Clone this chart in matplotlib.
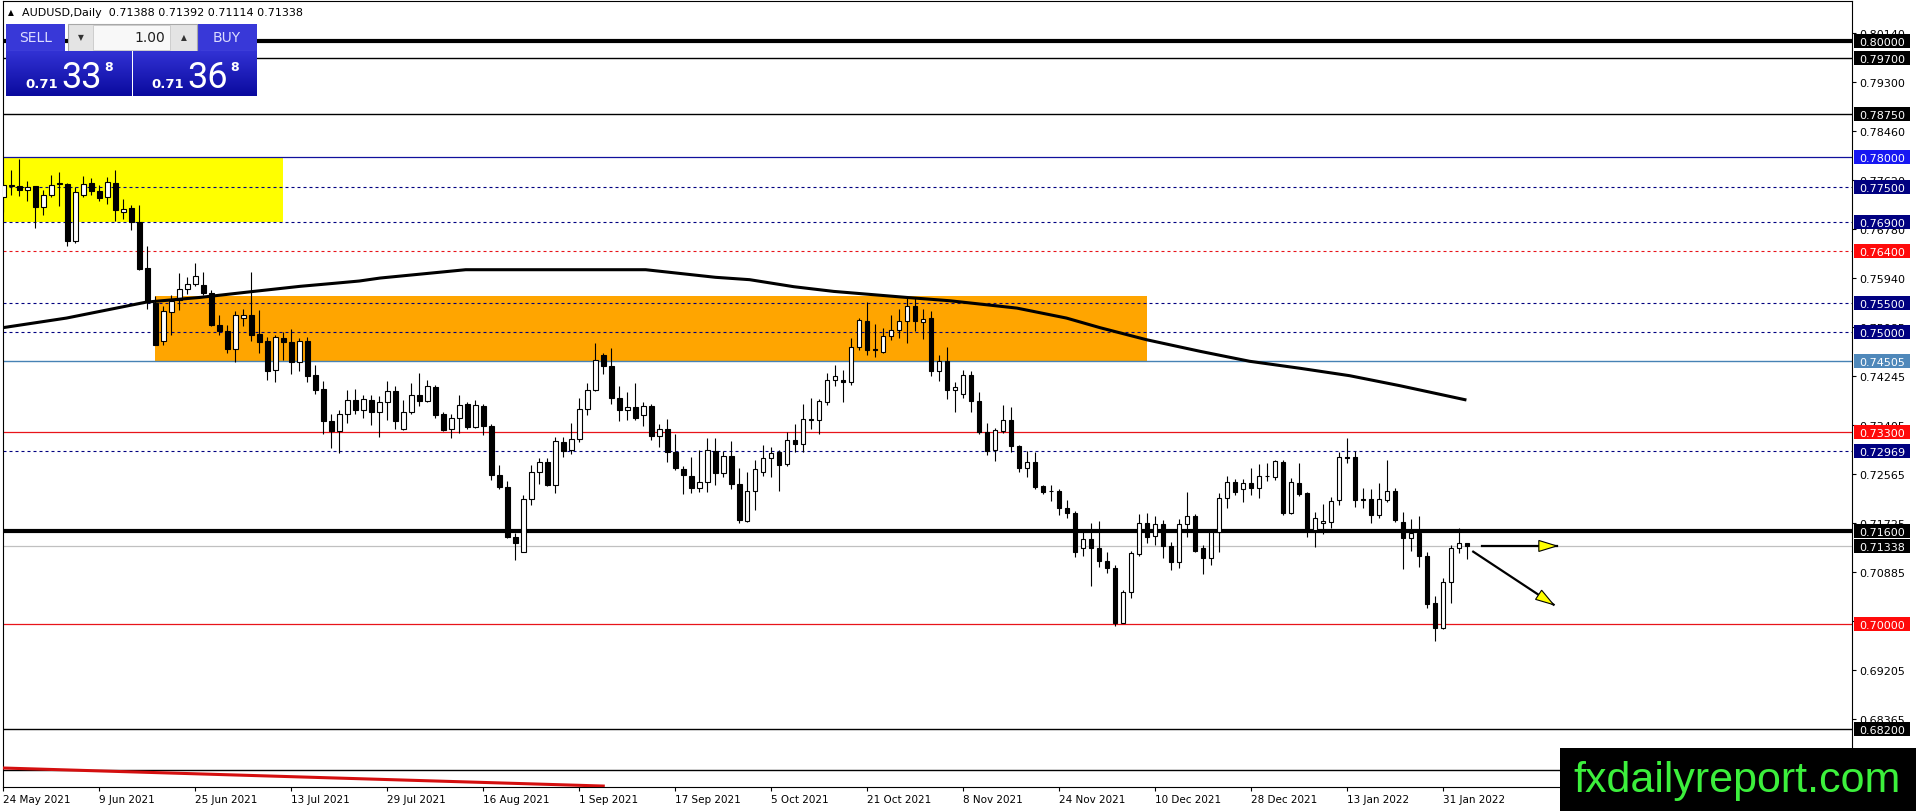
import numpy as np
import pandas as pd
import matplotlib
matplotlib.use('Agg')
import matplotlib.pyplot as plt
import matplotlib.transforms as mtrans
from matplotlib.patches import Rectangle, Polygon
from matplotlib.colors import LinearSegmentedColormap

W, H = 1916, 812

# AUDUSD daily candles, 24 May 2021 .. 3 Feb 2022
opens = [
    0.77315, 0.77504, 0.77516, 0.77436, 0.77504, 0.77144, 0.77350, 0.77544, 0.77544, 0.76560,
    0.77361, 0.77556, 0.77430, 0.77315, 0.77561, 0.77064, 0.77132, 0.76892, 0.76103, 0.75502,
    0.74844, 0.75342, 0.75559, 0.75748, 0.75834, 0.75805, 0.75674, 0.75130, 0.75016, 0.74719,
    0.75239, 0.75302, 0.74976, 0.74844, 0.74347, 0.74896, 0.74827, 0.74484, 0.74850, 0.74261,
    0.74026, 0.73472, 0.73311, 0.73597, 0.73832, 0.73672, 0.73843, 0.73643, 0.73798, 0.73986,
    0.73346, 0.73643, 0.73929, 0.73815, 0.74061, 0.73603, 0.73340, 0.73540, 0.73769, 0.73380,
    0.73740, 0.73403, 0.72556, 0.72356, 0.71498, 0.71241, 0.72139, 0.72614, 0.72785, 0.72385,
    0.73128, 0.72985, 0.73174, 0.73689, 0.74015, 0.74604, 0.74415, 0.73883, 0.73672, 0.73712,
    0.73575, 0.73740, 0.73231, 0.73346, 0.72945, 0.72654, 0.72545, 0.72333, 0.72442, 0.72974,
    0.72585, 0.72888, 0.72408, 0.71773, 0.72288, 0.72614, 0.72854, 0.72945, 0.72745, 0.73146,
    0.73088, 0.73523, 0.73500, 0.73803, 0.74175, 0.74187, 0.74141, 0.74741, 0.75188, 0.74713,
    0.74661, 0.74930, 0.75045, 0.75188, 0.75456, 0.75170, 0.75245, 0.74330, 0.74513, 0.74015,
    0.73946, 0.74261, 0.73815, 0.73289, 0.72985, 0.73317, 0.73489, 0.73060, 0.72682, 0.72785,
    0.72368, 0.72288, 0.72288, 0.71984, 0.71910, 0.71298, 0.71458, 0.71298, 0.71086, 0.70966,
    0.70022, 0.70543, 0.71201, 0.71738, 0.71515, 0.71710, 0.71344, 0.71069, 0.71716, 0.71859,
    0.71309, 0.71138, 0.71573, 0.72156, 0.72442, 0.72310, 0.72425, 0.72339, 0.72534, 0.72528,
    0.72774, 0.71910, 0.72425, 0.72242, 0.71613, 0.71738, 0.71756, 0.72127, 0.72865, 0.72860,
    0.72145, 0.72139, 0.71870, 0.72127, 0.72288, 0.71756, 0.71470, 0.71555, 0.71172, 0.70354,
    0.69937, 0.70715, 0.71309, 0.71388]
highs = [
    0.77601, 0.77779, 0.77973, 0.77590, 0.77516, 0.77436, 0.77704, 0.77750, 0.77556, 0.77487,
    0.77676, 0.77647, 0.77533, 0.77659, 0.77779, 0.77287, 0.77190, 0.77178, 0.76475, 0.75617,
    0.75445, 0.75645, 0.76017, 0.75943, 0.76183, 0.76028, 0.75731, 0.75302, 0.75119, 0.75359,
    0.75405, 0.76028, 0.75376, 0.74919, 0.74959, 0.75005, 0.75062, 0.74902, 0.74913, 0.74444,
    0.74169, 0.73597, 0.73666, 0.74009, 0.74032, 0.73929, 0.73929, 0.73901, 0.74158, 0.74072,
    0.73843, 0.74124, 0.74301, 0.74187, 0.74089, 0.73643, 0.73597, 0.73918, 0.73803, 0.73843,
    0.73769, 0.73437, 0.72728, 0.72453, 0.71555, 0.72213, 0.72728, 0.72842, 0.72842, 0.73203,
    0.73203, 0.73454, 0.73872, 0.74124, 0.74816, 0.74644, 0.74730, 0.74072, 0.73975, 0.74124,
    0.73798, 0.73769, 0.73426, 0.73512, 0.73260, 0.72717, 0.72871, 0.72985, 0.73186, 0.73197,
    0.72974, 0.73140, 0.72671, 0.72614, 0.72814, 0.73071, 0.73043, 0.72985, 0.73300, 0.73426,
    0.73769, 0.73883, 0.73861, 0.74301, 0.74433, 0.74358, 0.74902, 0.75245, 0.75514, 0.75148,
    0.75073, 0.75291, 0.75399, 0.75588, 0.75588, 0.75399, 0.75359, 0.74616, 0.74741, 0.74147,
    0.74347, 0.74341, 0.73975, 0.73443, 0.73357, 0.73758, 0.73712, 0.73071, 0.72968, 0.72957,
    0.72385, 0.72385, 0.72316, 0.72127, 0.71939, 0.71584, 0.71727, 0.71767, 0.71229, 0.71012,
    0.70583, 0.71252, 0.71881, 0.71899, 0.71859, 0.71784, 0.71401, 0.71801, 0.72270, 0.71881,
    0.71355, 0.71613, 0.72242, 0.72545, 0.72482, 0.72482, 0.72671, 0.72745, 0.72757, 0.72814,
    0.72814, 0.72511, 0.72757, 0.72259, 0.71916, 0.72065, 0.72173, 0.72957, 0.73186, 0.72974,
    0.72328, 0.72316, 0.72413, 0.72814, 0.72328, 0.71916, 0.71801, 0.71853, 0.71229, 0.70486,
    0.70795, 0.71355, 0.71641, 0.71392]
lows = [
    0.77064, 0.77350, 0.77333, 0.77247, 0.76789, 0.77018, 0.77315, 0.77172, 0.76475, 0.76526,
    0.77315, 0.77350, 0.77258, 0.77201, 0.76904, 0.76949, 0.76761, 0.76074, 0.75405, 0.74776,
    0.74787, 0.74959, 0.75388, 0.75657, 0.75800, 0.75645, 0.75102, 0.74947, 0.74639, 0.74484,
    0.75113, 0.74844, 0.74644, 0.74187, 0.74141, 0.74530, 0.74290, 0.74341, 0.74141, 0.73941,
    0.73254, 0.73025, 0.72928, 0.73443, 0.73597, 0.73540, 0.73414, 0.73214, 0.73500, 0.73346,
    0.73329, 0.73597, 0.73729, 0.73803, 0.73529, 0.73311, 0.73197, 0.73271, 0.73346, 0.73352,
    0.73243, 0.72465, 0.72316, 0.71470, 0.71098, 0.71229, 0.72042, 0.72402, 0.72368, 0.72253,
    0.72871, 0.72917, 0.73117, 0.73586, 0.73986, 0.74290, 0.73769, 0.73483, 0.73500, 0.73500,
    0.73397, 0.73157, 0.73043, 0.72774, 0.72642, 0.72230, 0.72253, 0.72265, 0.72270, 0.72385,
    0.72522, 0.72310, 0.71727, 0.71756, 0.71956, 0.72545, 0.72516, 0.72282, 0.72717, 0.72957,
    0.72957, 0.73346, 0.73260, 0.73758, 0.74072, 0.73803, 0.74101, 0.74701, 0.74616, 0.74570,
    0.74644, 0.74873, 0.74902, 0.74816, 0.75016, 0.74884, 0.74244, 0.74158, 0.73861, 0.73643,
    0.73883, 0.73643, 0.73254, 0.72900, 0.72802, 0.73271, 0.72957, 0.72614, 0.72522, 0.72310,
    0.72230, 0.72110, 0.71870, 0.71824, 0.71155, 0.71172, 0.70652, 0.70983, 0.70869, 0.69965,
    0.70011, 0.70440, 0.71172, 0.71384, 0.71355, 0.71138, 0.70926, 0.70966, 0.71498, 0.71229,
    0.70858, 0.71012, 0.71229, 0.71996, 0.72213, 0.72099, 0.72213, 0.72167, 0.72459, 0.72470,
    0.71870, 0.71888, 0.72202, 0.71498, 0.71327, 0.71538, 0.71641, 0.72042, 0.72757, 0.72002,
    0.71996, 0.71727, 0.71824, 0.72087, 0.71744, 0.70943, 0.71252, 0.70983, 0.70268, 0.69708,
    0.69914, 0.70366, 0.71224, 0.71114]
closes = [
    0.77533, 0.77521, 0.77436, 0.77493, 0.77144, 0.77350, 0.77533, 0.77556, 0.76572, 0.77401,
    0.77550, 0.77430, 0.77304, 0.77573, 0.77092, 0.77121, 0.76892, 0.76091, 0.75519, 0.74787,
    0.75359, 0.75531, 0.75748, 0.75834, 0.75960, 0.75674, 0.75130, 0.75016, 0.74719, 0.75302,
    0.75302, 0.74959, 0.74833, 0.74341, 0.74924, 0.74827, 0.74484, 0.74850, 0.74244, 0.74004,
    0.73472, 0.73311, 0.73597, 0.73832, 0.73672, 0.73849, 0.73643, 0.73798, 0.73986, 0.73472,
    0.73643, 0.73929, 0.73815, 0.74072, 0.73575, 0.73329, 0.73529, 0.73758, 0.73380, 0.73746,
    0.73403, 0.72556, 0.72350, 0.71498, 0.71384, 0.72139, 0.72614, 0.72785, 0.72379, 0.73140,
    0.72974, 0.73174, 0.73689, 0.74015, 0.74530, 0.74415, 0.73883, 0.73672, 0.73712, 0.73529,
    0.73729, 0.73231, 0.73346, 0.72945, 0.72671, 0.72556, 0.72333, 0.72442, 0.72985, 0.72596,
    0.72888, 0.72408, 0.71784, 0.72288, 0.72659, 0.72854, 0.72940, 0.72728, 0.73146, 0.73088,
    0.73517, 0.73500, 0.73815, 0.74175, 0.74244, 0.74141, 0.74741, 0.75205, 0.74690, 0.74690,
    0.74942, 0.75045, 0.75188, 0.75456, 0.75199, 0.75233, 0.74341, 0.74513, 0.74015, 0.74055,
    0.74261, 0.73815, 0.73300, 0.72974, 0.73329, 0.73489, 0.73054, 0.72682, 0.72785, 0.72345,
    0.72270, 0.72276, 0.71984, 0.71910, 0.71241, 0.71458, 0.71298, 0.71081, 0.70966, 0.70011,
    0.70543, 0.71212, 0.71738, 0.71498, 0.71716, 0.71344, 0.71069, 0.71716, 0.71859, 0.71252,
    0.71138, 0.71573, 0.72156, 0.72442, 0.72270, 0.72425, 0.72339, 0.72545, 0.72545, 0.72797,
    0.71899, 0.72442, 0.72230, 0.71613, 0.71824, 0.71773, 0.72110, 0.72871, 0.72854, 0.72127,
    0.72133, 0.71870, 0.72139, 0.72288, 0.71784, 0.71470, 0.71555, 0.71172, 0.70343, 0.69937,
    0.70715, 0.71309, 0.71395, 0.71338]

dates = pd.bdate_range('2021-05-24', periods=len(opens))

# black moving average, sampled along the curve (bar number, price)
ma_bar = [-0.4, 7.9, 17.9, 24.6, 31.3, 37.1, 41.3, 44.5, 47.1, 57.8, 63.3, 72.4, 80.3, 89.0,
          93.3, 98.8, 103.8, 112.8, 118.3, 126.7, 132.9, 137.1, 142.9, 149.6, 155.8, 162.1,
          168.3, 174.6, 182.9]
ma_val = [0.75073, 0.75245, 0.75519, 0.75599, 0.75702, 0.75789, 0.75840, 0.75880, 0.75931,
          0.76074, 0.76074, 0.76074, 0.76074, 0.75944, 0.75903, 0.75783, 0.75702, 0.75600,
          0.75542, 0.75416, 0.75245, 0.75080, 0.74874, 0.74675, 0.74504, 0.74384, 0.74257,
          0.74085, 0.73840]

# price scale ticks
tick_prices = [0.80140, 0.79300, 0.78460, 0.77620, 0.76780, 0.75940, 0.75085, 0.74245,
               0.73405, 0.72565, 0.71725, 0.70885, 0.70045, 0.69205, 0.68365]

# horizontal levels
level_prices = [0.80000, 0.79700, 0.78750, 0.78000, 0.77500, 0.76900, 0.76400, 0.75500,
                0.75000, 0.74505, 0.73300, 0.72969, 0.71600, 0.71338, 0.70000, 0.68200, 0.67500]
level_labeled = [True] * 16 + [False]

# zones (bar from, bar to, low, high)
zone_from = [-3, 19]
zone_to = [35, 143]
zone_low = [0.76900, 0.74505]
zone_high = [0.78000, 0.75630]

# red trendline at the bottom
trend_bar = [0, 75]
trend_val = [0.67531, 0.67222]

# the two arrows (tail -> tip)
arrow_from_bar = [184.9, 183.75]
arrow_from_val = [0.71338, 0.71240]
arrow_to_bar = [194.2, 193.8]
arrow_to_val = [0.71338, 0.70331]

bid, ask = 0.71338, 0.71368

# styles
NAVY = '#000080'
RED = '#e8141a'
level_style = [
    ('black', '-', 3.0, 'black'),
    ('black', '-', 1.0, 'black'),
    ('black', '-', 1.0, 'black'),
    ('#10109c', '-', 0.9, '#1717f2'),
    (NAVY, 'd', 0.8, NAVY),
    (NAVY, 'd', 0.8, NAVY),
    (RED, 'd', 0.8, '#ff0a0a'),
    (NAVY, 'd', 0.8, NAVY),
    (NAVY, 'd', 0.8, NAVY),
    ('#4682b4', '-', 1.0, '#4f88ba'),
    (RED, '-', 0.9, '#ff0a0a'),
    (NAVY, 'd', 0.8, NAVY),
    ('black', '-', 3.0, 'black'),
    ('#c0c0c0', '-', 0.9, 'black'),
    (RED, '-', 0.9, '#ff0a0a'),
    ('black', '-', 1.0, 'black'),
    ('black', '-', 1.0, 'black'),
]
zone_colors = ['#ffff00', '#ffa500']

plt.rcParams['font.family'] = 'DejaVu Sans'

fig = plt.figure(figsize=(W / 100, H / 100), dpi=100)
fig.patch.set_facecolor('white')

# chart area in pixels: x 2.7..1852, y 2.3..788
ax = fig.add_axes([2.7 / W, (H - 788) / H, (1852 - 2.7) / W, (788 - 2.3) / H])
ax.set_xlim(-0.075, 231.1)
ax.set_ylim(0.672056, 0.806755)
for s in ax.spines.values():
    s.set_linewidth(0.8)
    s.set_color('black')

# zones
for b0, b1, lo, hi, col in zip(zone_from, zone_to, zone_low, zone_high, zone_colors):
    ax.add_patch(Rectangle((b0, lo), b1 - b0, hi - lo, facecolor=col, edgecolor='none', zorder=1))

# levels
for p, (col, ls, lw, _) in zip(level_prices, level_style):
    if ls == 'd':
        ax.axhline(p, color=col, lw=lw, linestyle=(0, (2.7, 2.7)), zorder=2)
    else:
        ax.axhline(p, color=col, lw=lw, zorder=2)

# candles
o = np.array(opens)
h = np.array(highs)
l = np.array(lows)
c = np.array(closes)
x = np.arange(len(o))
up = c >= o
ax.vlines(x, l, h, colors='black', lw=0.8, zorder=3)
body_lo = np.minimum(o, c)
body_h = np.maximum(np.abs(c - o), 0.00004)
ax.bar(x, body_h, bottom=body_lo, width=0.56, color=np.where(up, 'white', 'black'),
       edgecolor='black', linewidth=0.8, zorder=4)

# moving average
ax.plot(ma_bar, ma_val, color='black', lw=2.2, zorder=5, solid_capstyle='butt')

# red trendline
ax.plot(trend_bar, trend_val, color='#d40f0f', lw=2.2, zorder=5)

# arrows
tr = ax.transData
for xb, yb, xt, yt in zip(arrow_from_bar, arrow_from_val, arrow_to_bar, arrow_to_val):
    ax.plot([xb, xt], [yb, yt], color='black', lw=1.6, zorder=6)
    p0 = np.array(tr.transform((xb, yb)))
    p1 = np.array(tr.transform((xt, yt)))
    d = (p1 - p0) / np.linalg.norm(p1 - p0)
    n = np.array([-d[1], d[0]])
    base = p1 - d * 18
    tri = tr.inverted().transform([p1, base + n * 5.5, base - n * 5.5])
    ax.add_patch(Polygon(tri, closed=True, facecolor='#ffff00', edgecolor='black', lw=0.8, zorder=7))

# price axis
ax.yaxis.tick_right()
ax.set_yticks(tick_prices)
ax.set_yticklabels([f'{p:.5f}' for p in tick_prices])
ax.tick_params(axis='y', direction='out', length=3, width=0.8, pad=2.5, labelsize=8)

# date axis
ax.set_xticks(x[::12])
ax.set_xticklabels([f'{d.day} {d:%b %Y}' for d in dates[::12]])
for lab in ax.get_xticklabels():
    lab.set_horizontalalignment('left')
ax.tick_params(axis='x', direction='out', length=3, width=0.8, pad=2, labelsize=7.5)

# level labels on the price axis
blend = mtrans.blended_transform_factory(fig.transFigure, ax.transData)
box_h = 14 * (0.806755 - 0.672056) / (788 - 2.3)
txt_tr = mtrans.offset_copy(blend, fig=fig, x=0, y=-4, units='dots')
for p, lab_on, (_, _, _, bcol) in zip(level_prices, level_labeled, level_style):
    if not lab_on:
        continue
    ax.add_patch(Rectangle((1854 / W, p - box_h / 2), 56 / W, box_h, transform=blend,
                           facecolor=bcol, edgecolor='none', clip_on=False, zorder=8))
    ax.text(1859 / W, p, f'{p:.5f}', transform=txt_tr, color='white', fontsize=8,
            va='baseline', ha='left', clip_on=False, zorder=9)


# helpers in pixel coords for the overlay widgets
def frect(x0, y0, x1, y1, **kw):
    fig.add_artist(Rectangle((x0 / W, 1 - y1 / H), (x1 - x0) / W, (y1 - y0) / H,
                             transform=fig.transFigure, **kw))


def ftext(xp, yp, s, **kw):
    fig.text(xp / W, 1 - yp / H, s, **kw)


def gradient(x0, y0, x1, y1, cmap):
    a = fig.add_axes([x0 / W, 1 - y1 / H, (x1 - x0) / W, (y1 - y0) / H])
    a.imshow(np.linspace(0, 1, 64).reshape(-1, 1), cmap=cmap, aspect='auto')
    a.axis('off')
    a.set_zorder(2)


# title line
ftext(10.5, 12.5, '▲', fontsize=5.5, ha='center', va='center', color='black')
ftext(22, 12.7, f'AUDUSD,Daily  {opens[-1]:.5f} {highs[-1]:.5f} {lows[-1]:.5f} {closes[-1]:.5f}',
      fontsize=8, ha='left', va='center', color='black')

# one-click trading panel
blue_grad = LinearSegmentedColormap.from_list('bg', ['#3232d4', '#0a0a9e'])
frect(6, 25, 65, 52, facecolor='#3838d8', edgecolor='none')
frect(197, 25, 257, 52, facecolor='#3838d8', edgecolor='none')
frect(68, 25, 197, 52, facecolor='#e4e4e4', edgecolor='#a8a8a8', lw=0.8)
frect(93, 26, 170, 51, facecolor='#f8f8f8', edgecolor='#c8c8c8', lw=0.6)
frect(131, 52, 133, 97, facecolor='white', edgecolor='none')
fig.add_artist(plt.Line2D([10 / W, 62 / W], [1 - 51.5 / H] * 2, color='#9090e8', lw=0.8))
fig.add_artist(plt.Line2D([201 / W, 253 / W], [1 - 51.5 / H] * 2, color='#9090e8', lw=0.8))
ftext(35.5, 38.5, 'SELL', fontsize=10, color='#dcdcff', ha='center', va='center')
ftext(227, 38.5, 'BUY', fontsize=10, color='#dcdcff', ha='center', va='center')
ftext(80.5, 38, '▼', fontsize=5.5, color='#333333', ha='center', va='center')
ftext(183.5, 38, '▲', fontsize=5.5, color='#333333', ha='center', va='center')
ftext(165, 38.5, '1.00', fontsize=10, color='#202020', ha='right', va='center')

gradient(6, 52, 131, 97, blue_grad)
gradient(133, 52, 257, 97, blue_grad)
for px0, price in ((25, bid), (151, ask)):
    s = f'{price:.5f}'
    ftext(px0, 88, s[:4], fontsize=9.5, fontweight='bold', color='white', ha='left', va='baseline')
    ftext(px0 + 36, 87.5, s[4:6], fontsize=26, family=['Roboto', 'DejaVu Sans'],
          color='white', ha='left', va='baseline')
    ftext(px0 + 79, 71, s[6], fontsize=9, fontweight='bold', color='white', ha='left', va='baseline')

# watermark
frect(1560, 749, 1916, 812, facecolor='black', edgecolor='none')
ftext(1737, 792, 'fxdailyreport.com', family=['Liberation Sans', 'DejaVu Sans'], fontsize=31,
      color='#3cf03c', ha='center', va='baseline')

fig.savefig('out.png', dpi=100, facecolor='white')
